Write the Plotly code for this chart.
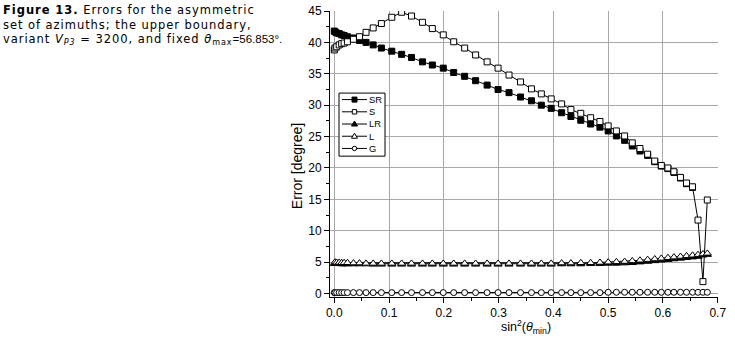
import plotly.graph_objects as go

# ---------------- data ----------------
x_sin2 = [0.0, 0.0013, 0.0044, 0.009, 0.0135, 0.018, 0.024, 0.035, 0.046, 0.058,
          0.071, 0.086, 0.105, 0.123, 0.141, 0.161, 0.179, 0.199, 0.218, 0.238,
          0.258, 0.279, 0.299, 0.319, 0.340, 0.360, 0.378, 0.396, 0.415, 0.432,
          0.450, 0.468, 0.485, 0.500, 0.515, 0.530, 0.544, 0.558, 0.572, 0.585,
          0.597, 0.609, 0.620, 0.632, 0.643, 0.654, 0.664, 0.673, 0.681]

err_SR = [41.8, 41.7, 41.5, 41.4, 41.2, 41.1, 40.9, 40.7, 40.3, 40.0,
          39.6, 39.1, 38.6, 38.1, 37.6, 36.9, 36.4, 35.9, 35.2, 34.6,
          33.9, 33.2, 32.5, 32.0, 31.3, 30.7, 30.0, 29.5, 28.8, 28.2,
          27.6, 27.0, 26.5, 25.9, 25.1, 24.4, 23.5, 22.7, 22.0, 21.0,
          20.3, 19.9, 19.3, 18.4, 17.5, 16.9]

err_S = [38.8, 39.1, 39.3, 39.6, 39.8, 39.9, 40.1, 40.5, 40.9, 41.6,
         42.3, 43.0, 44.0, 44.8, 44.2, 43.2, 42.2, 41.2, 40.1, 39.1,
         38.0, 36.9, 35.9, 34.8, 33.7, 32.6, 31.8, 31.0, 30.2, 29.3,
         28.7, 28.0, 27.4, 26.7, 25.9, 25.1, 24.0, 23.1, 22.2, 21.1,
         20.4, 20.0, 19.4, 18.5, 17.6, 17.0, 11.7, 1.9, 14.9]

err_LR = [4.75, 4.75, 4.75, 4.75, 4.7, 4.7, 4.7, 4.7, 4.7, 4.7,
          4.65, 4.65, 4.65, 4.65, 4.65, 4.65, 4.65, 4.65, 4.65, 4.65,
          4.65, 4.65, 4.65, 4.65, 4.65, 4.65, 4.65, 4.65, 4.7, 4.7,
          4.7, 4.75, 4.75, 4.8, 4.8, 4.85, 4.9, 5.0, 5.1, 5.2,
          5.3, 5.4, 5.5, 5.6, 5.7, 5.8, 5.9, 6.1, 6.2]

err_L = [5.0, 4.95, 4.95, 4.9, 4.9, 4.9, 4.85, 4.85, 4.8,
         4.8, 4.8, 4.8, 4.8, 4.8, 4.8, 4.8, 4.8, 4.8, 4.8,
         4.8, 4.8, 4.8, 4.8, 4.8, 4.8, 4.8, 4.8, 4.85, 4.85,
         4.9, 4.9, 4.95, 5.0, 5.05, 5.1, 5.2, 5.3, 5.4, 5.5,
         5.6, 5.7, 5.8, 5.9, 6.0, 6.1, 6.2, 6.3, 6.4]

err_G = [0.15] * 33 + [0.2] * 16

series_names = ["SR", "S", "LR", "L", "G"]

x_tick_vals = [0.0, 0.1, 0.2, 0.3, 0.4, 0.5, 0.6, 0.7]
x_tick_text = ["0.0", "0.1", "0.2", "0.3", "0.4", "0.5", "0.6", "0.7"]
y_tick_vals = [0, 5, 10, 15, 20, 25, 30, 35, 40, 45]
y_tick_text = ["0", "5", "10", "15", "20", "25", "30", "35", "40", "45"]

# ---------------- layout geometry ----------------
W, H = 735, 338
PL, PR, PT, PB = 330, 718, 11, 296.7   # plot area in pixels
PW, PH = PR - PL, PB - PT


def px_x(p):
    return (p - PL) / PW


def px_y(p):
    return (PB - p) / PH


SANS = "Liberation Sans"
AX_FONT = dict(family=SANS, size=12, color="black")

fig = go.Figure()

styles = {
    "SR": ("square", "black", 6),
    "S": ("square", "white", 6),
    "LR": ("triangle-up", "black", 7),
    "L": ("triangle-up", "white", 7),
    "G": ("circle", "white", 6),
}
series_xy = {
    "SR": (x_sin2[:len(err_SR)], err_SR),
    "S": (x_sin2, err_S),
    "LR": (x_sin2, err_LR),
    "L": (x_sin2[1:], err_L),
    "G": (x_sin2, err_G),
}

for name in series_names:
    xs, ys = series_xy[name]
    sym, fill, size = styles[name]
    fig.add_trace(go.Scatter(
        x=xs, y=ys, name=name, mode="lines+markers",
        line=dict(color="black", width=1),
        marker=dict(symbol=sym, size=size, color=fill,
                    line=dict(color="black", width=1))))

grid = "#a8a8a8"
fig.update_layout(
    width=W, height=H,
    margin=dict(l=PL, r=W - PR, t=PT, b=H - PB, autoexpand=False),
    paper_bgcolor="white", plot_bgcolor="white",
    font=AX_FONT,
    showlegend=False,
    xaxis=dict(range=[-0.0078, 0.7005], tickmode="array",
               tickvals=x_tick_vals, ticktext=x_tick_text,
               ticks="outside", ticklen=5, tickcolor="black", tickwidth=1,
               showline=True, linecolor="black", linewidth=1,
               showgrid=True, gridcolor=grid, gridwidth=1, zeroline=False,
               minor=dict(dtick=0.05, tick0=0, ticks="outside", ticklen=3,
                          tickcolor="black", showgrid=False),
               tickfont=AX_FONT),
    yaxis=dict(range=[-0.55, 45], tickmode="array",
               tickvals=y_tick_vals, ticktext=y_tick_text,
               ticks="outside", ticklen=5, tickcolor="black", tickwidth=1,
               showline=True, linecolor="black", linewidth=1,
               showgrid=True, gridcolor=grid, gridwidth=1, zeroline=False,
               minor=dict(dtick=2.5, tick0=0, ticks="outside", ticklen=3,
                          tickcolor="black", showgrid=False),
               tickfont=AX_FONT),
)

# ---------------- compact legend box (Origin-style) ----------------
LX0, LX1, LY0, LY1 = 339, 385, 93, 156
ROW0, ROWH = 99.5, 12.2
fig.add_shape(type="rect", xref="paper", yref="paper",
              x0=px_x(LX0), x1=px_x(LX1), y0=px_y(LY1), y1=px_y(LY0),
              line=dict(color="black", width=1), fillcolor="white", layer="above")
for i, name in enumerate(series_names):
    cy = ROW0 + ROWH * i
    cx = 354.5
    sym, fill, size = styles[name]
    fig.add_shape(type="line", xref="paper", yref="paper",
                  x0=px_x(342), x1=px_x(367), y0=px_y(cy), y1=px_y(cy),
                  line=dict(color="black", width=1), layer="above")
    if sym == "square":
        h = 2.5 if fill == "black" else 2.2
        fig.add_shape(type="rect", xref="paper", yref="paper",
                      x0=px_x(cx - h), x1=px_x(cx + h), y0=px_y(cy + h), y1=px_y(cy - h),
                      line=dict(color="black", width=1), fillcolor=fill, layer="above")
    elif sym == "circle":
        r = 2.2
        fig.add_shape(type="circle", xref="paper", yref="paper",
                      x0=px_x(cx - r), x1=px_x(cx + r), y0=px_y(cy + r), y1=px_y(cy - r),
                      line=dict(color="black", width=1), fillcolor=fill, layer="above")
    else:
        path = "M {:.5f},{:.5f} L {:.5f},{:.5f} L {:.5f},{:.5f} Z".format(
            px_x(cx - 3), px_y(cy + 2), px_x(cx + 3), px_y(cy + 2),
            px_x(cx), px_y(cy - 3))
        fig.add_shape(type="path", xref="paper", yref="paper", path=path,
                      line=dict(color="black", width=1), fillcolor=fill, layer="above")

LEG_FS = ROWH / 1.3
fig.add_annotation(x=px_x(368), y=px_y(ROW0 + 2 * ROWH), xref="paper", yref="paper",
                   text="<br>".join(series_names), showarrow=False, align="left",
                   font=dict(family=SANS, size=LEG_FS, color="black"),
                   xanchor="left", yanchor="middle", borderpad=0)

# axis titles
fig.add_annotation(x=px_x(297), y=px_y(166), xref="paper", yref="paper",
                   text="Error [degree]", textangle=-90, showarrow=False,
                   font=dict(family=SANS, size=14),
                   xanchor="center", yanchor="middle", borderpad=0)
fig.add_annotation(x=px_x(526), y=px_y(337), xref="paper", yref="paper",
                   text="sin<sup>2</sup>(<i>θ</i><sub>min</sub>)", showarrow=False,
                   font=dict(family=SANS, size=12.5),
                   xanchor="center", yanchor="bottom", borderpad=0)

# caption on the left
CAP = dict(family="DejaVu Sans", size=11.5, color="black")
SP = "<span style=\"letter-spacing:0.95px\">{}</span>"
cap_lines = [
    SP.format("<b>Figure 13.</b> Errors for the asymmetric"),
    SP.format("set of azimuths; the upper boundary,"),
    SP.format("variant <i>V</i><sub><i>P3</i></sub> = 3200, and fixed <i>θ</i><sub>max</sub>")
    + "<span style=\"font-family:Liberation Sans;font-size:11.5px\">=56.853°.</span>",
]
cap_y = [10.5, 24.5, 39.5]
for txt, yy in zip(cap_lines, cap_y):
    fig.add_annotation(x=px_x(2), y=px_y(yy), xref="paper", yref="paper",
                       text=txt, showarrow=False, font=CAP, borderpad=0,
                       xanchor="left", yanchor="middle", align="left")

fig.write_html("out.html", config={"displayModeBar": False},
               post_script="document.body.style.margin='0px';")
